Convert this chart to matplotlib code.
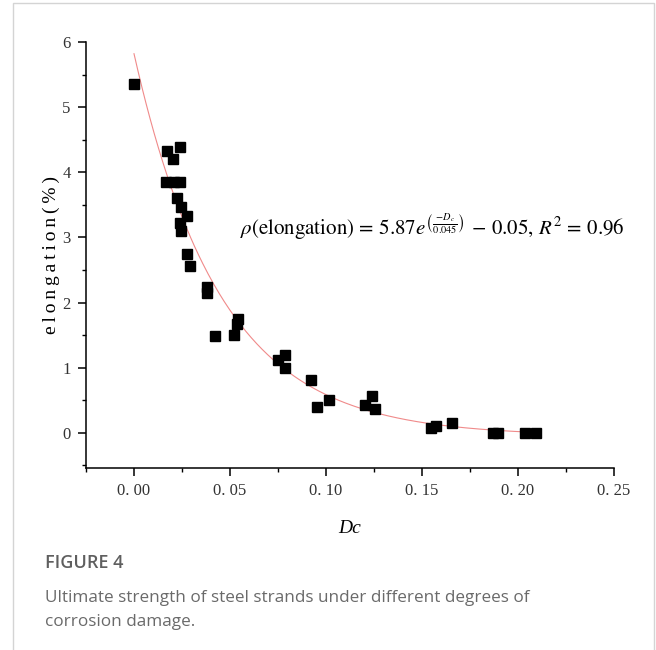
import matplotlib
matplotlib.use("Agg")
import matplotlib.pyplot as plt
import numpy as np
from matplotlib.patches import Rectangle
from matplotlib.ticker import MultipleLocator, FuncFormatter

# measured points (Dc, elongation %)
dc = [0.000, 0.0172, 0.0242, 0.0205, 0.0169, 0.0207, 0.0238, 0.0224, 0.0247,
      0.0278, 0.0242, 0.0243, 0.0276, 0.0290, 0.0380, 0.0380, 0.0420, 0.0519,
      0.0540, 0.0536, 0.0750, 0.0785, 0.0789, 0.0924, 0.0955, 0.1016, 0.1202,
      0.1240, 0.1257, 0.1549, 0.1575, 0.1656, 0.1870, 0.1896, 0.2035, 0.2096]
elong = [5.36, 4.33, 4.39, 4.20, 3.85, 3.85, 3.85, 3.60, 3.46,
         3.33, 3.22, 3.10, 2.75, 2.56, 2.24, 2.15, 1.49, 1.50,
         1.75, 1.67, 1.12, 1.19, 0.99, 0.81, 0.40, 0.51, 0.43,
         0.56, 0.36, 0.07, 0.11, 0.15, 0.00, 0.00, 0.00, 0.00]

# fitted curve: rho = 5.87 exp(-Dc/0.045) - 0.05
fit_a, fit_b, fit_c = 5.87, 0.045, -0.05
fit_range = (0.0, 0.21)

xticks = [0.00, 0.05, 0.10, 0.15, 0.20, 0.25]
yticks = [0, 1, 2, 3, 4, 5, 6]

serif = ["Liberation Serif", "DejaVu Serif"]
plt.rcParams["mathtext.fontset"] = "stix"

fig = plt.figure(figsize=(6.56, 6.50), dpi=100)
fig.patches.append(Rectangle((13 / 656, -0.1), 641 / 656, 1.1 - 3 / 650,
                             transform=fig.transFigure, fill=False,
                             edgecolor="#d4d4d4", lw=1.0))

ax = fig.add_axes([86 / 656, 1 - 468 / 650, 528 / 656, 426 / 650])
xs = np.linspace(*fit_range, 300)
ax.plot(xs, fit_a * np.exp(-xs / fit_b) + fit_c, color="#f08a8a", lw=0.8,
        zorder=2)
ax.plot(dc, elong, ls="none", marker="s", ms=7.8, color="black", mec="black",
        zorder=3)

ax.set_xlim(-0.025, 0.25)
ax.set_ylim(-0.54, 6.0)
ax.set_xticks(xticks)
ax.set_yticks(yticks)
ax.xaxis.set_minor_locator(MultipleLocator(0.025))
ax.yaxis.set_minor_locator(MultipleLocator(0.5))
ax.xaxis.set_major_formatter(FuncFormatter(lambda v, p: f"{v:.2f}".replace(".", ". ")))
for s in ("top", "right"):
    ax.spines[s].set_visible(False)
for s in ("left", "bottom"):
    ax.spines[s].set_linewidth(1.1)
ax.tick_params(which="major", direction="out", length=6, width=1.1,
               labelsize=12, pad=5)
ax.tick_params(which="minor", direction="out", length=3, width=1.0)
for lab in ax.get_xticklabels() + ax.get_yticklabels():
    lab.set_fontfamily(serif)
    lab.set_color("#333333")

ax.set_xlabel("Dc", fontfamily=serif, style="italic", fontsize=14,
              labelpad=15)
ax.set_ylabel("\u2009".join("elongation(%)"), fontfamily=serif, fontsize=14,
              labelpad=2)

ax.text(0.055, 3.05,
        r"$\rho(\mathrm{elongation})\,=\,5.87e^{\left(\frac{-D_c}{0.045}\right)}"
        r"\,-\,0.05,\,R^2\,=\,0.96$",
        fontsize=15, va="baseline", ha="left")

fig.text(45 / 656, 1 - 563 / 650, "FIGURE 4", fontfamily="Open Sans",
         fontweight="semibold", fontsize=13, color="#5f5f5f", va="center")
fig.text(45 / 656, 1 - 598 / 650,
         "Ultimate strength of steel strands under different degrees of",
         fontfamily="Open Sans", fontsize=12.3, color="#6a6a6a", va="center")
fig.text(45 / 656, 1 - 622 / 650, "corrosion damage.",
         fontfamily="Open Sans", fontsize=12.3, color="#6a6a6a", va="center")

fig.savefig("out.png", dpi=100)
